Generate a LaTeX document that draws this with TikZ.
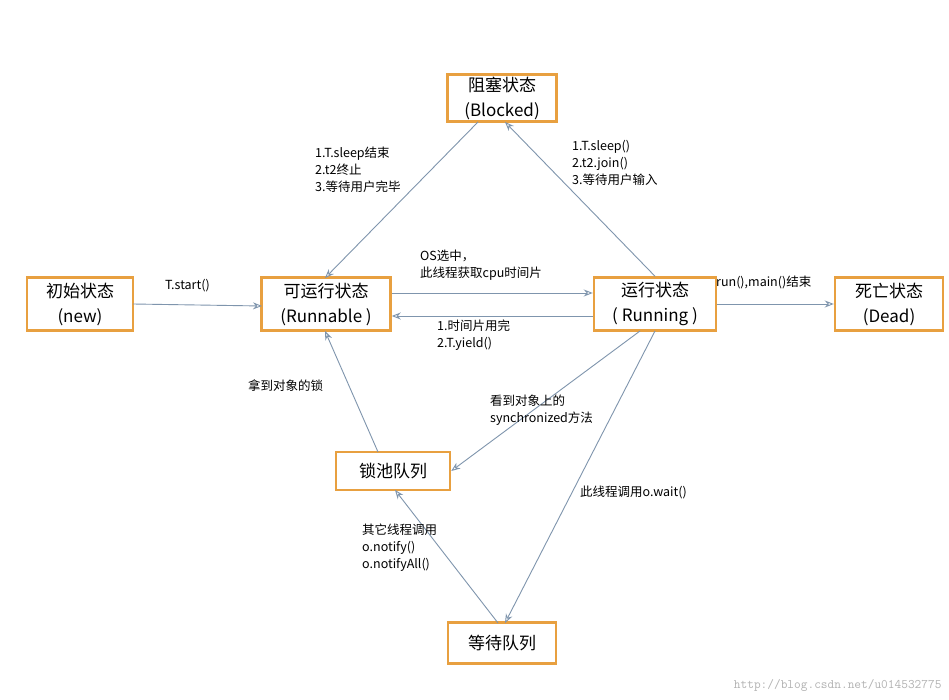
\documentclass[tikz,border=0pt]{standalone}
\usepackage{fontspec}
\setmainfont{Noto Sans CJK SC}
\usetikzlibrary{arrows.meta}
\definecolor{boxc}{HTML}{E8A040}
\definecolor{arr}{HTML}{7F95AD}
\begin{document}
\begin{tikzpicture}[x=1pt,y=-1pt,
  st/.style={draw=boxc,line width=2.5pt,fill=white,align=center,font=\fontsize{17}{25}\selectfont,inner sep=0pt},
  lab/.style={align=left,anchor=north west,font=\fontsize{12.5}{17}\selectfont,inner sep=0pt},
  ar/.style={draw=arr,line width=0.9pt,-{Stealth[length=9pt,width=7pt,open]}}]
\useasboundingbox[fill=white] (0,0) rectangle (949,700);
\node[st,minimum width=109pt,minimum height=47pt] (blk) at (502,98) {阻塞状态\\(Blocked)};
\node[st,minimum width=106pt,minimum height=53pt] (new) at (80,304) {初始状态\\(new)};
\node[st,minimum width=129pt,minimum height=53pt] (rab) at (326,304) {可运行状态\\(Runnable )};
\node[st,minimum width=122pt,minimum height=53pt] (run) at (655,304) {运行状态\\( Running )};
\node[st,minimum width=108pt,minimum height=53pt] (dead) at (889,304) {死亡状态\\(Dead)};
\node[st,minimum width=114pt,minimum height=38pt] (lock) at (393,471) {锁池队列};
\node[st,minimum width=108pt,minimum height=41pt] (wait) at (502,643) {等待队列};
\coordinate (a1) at (133,304); \coordinate (a2) at (262,306);
\draw[ar] (a1) -- (a2);
\node[lab] (l1) at (165,279) {T.start()};
\draw[ar] (rab.east |- 0,293) -- (run.west |- 0,293);
\node[lab] (l2) at (420,250) {OS选中，\\此线程获取cpu时间片};
\draw[ar] (run.west |- 0,316) -- (rab.east |- 0,316);
\node[lab] (l3) at (437,320) {1.时间片用完\\2.T.yield()};
\draw[ar] (run.east) -- (dead.west);
\node[lab] (l4) at (716,276) {run(),main()结束};
\draw[ar] (run.north) -- (505,122);
\node[lab] (l5) at (572,140) {1.T.sleep()\\2.t2.join()\\3.等待用户输入};
\draw[ar] (478,122) -- (325,278);
\node[lab] (l6) at (315,147) {1.T.sleep结束\\2.t2终止\\3.等待用户完毕};
\draw[ar] (640,331) -- (lock.east);
\node[lab] (l7) at (490,395) {看到对象上的\\synchronized方法};
\draw[ar] (655,331) -- (505,623);
\node[lab] (l8) at (580,486) {此线程调用o.wait()};
\draw[ar] (498,623) -- (395,490);
\node[lab] (l9) at (362,524) {其它线程调用\\o.notify()\\o.notifyAll()};
\draw[ar] (378,452) -- (325,331);
\node[lab] (l10) at (248,380) {拿到对象的锁};
\node[anchor=south east,text=gray!60,font=\ttfamily\fontsize{13}{15}\selectfont] (wm) at (945,695) {http://blog.csdn.net/u014532775};
\end{tikzpicture}
\end{document}
